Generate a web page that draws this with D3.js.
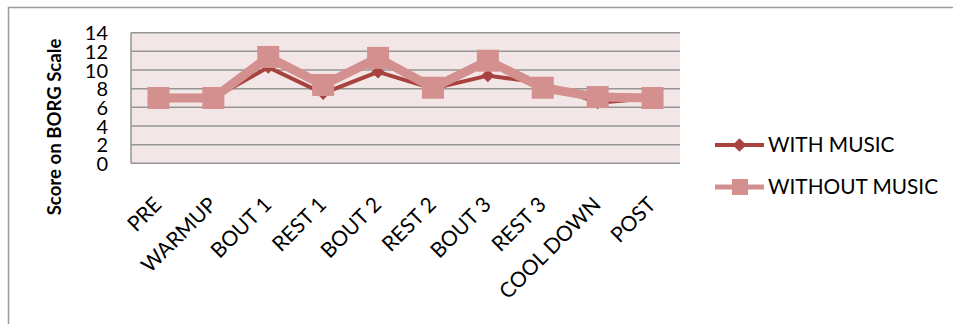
<!DOCTYPE html>
<html>
<head>
<meta charset="utf-8">
<script src="https://cdn.jsdelivr.net/npm/d3@7/dist/d3.min.js"></script>
<style>
  html, body { margin: 0; padding: 0; background: #fff; }
  svg { display: block; }
  text { font-family: Lato, "Open Sans", sans-serif; fill: #000; }
</style>
</head>
<body>
<svg id="chart" width="953" height="324"></svg>
<script>
// Perceived exertion (BORG scale) across session phases
const phases = ["PRE", "WARMUP", "BOUT 1", "REST 1", "BOUT 2", "REST 2", "BOUT 3", "REST 3", "COOL DOWN", "POST"];
const withMusic    = [7.0, 7.0, 10.3, 7.5, 9.8, 8.0, 9.4, 8.6, 6.5, 7.0];
const withoutMusic = [7.0, 7.0, 11.4, 8.4, 11.3, 8.1, 11.0, 8.1, 7.1, 7.0];
const yTicks = [0, 2, 4, 6, 8, 10, 12, 14];
const seriesNames = ["WITH MUSIC", "WITHOUT MUSIC"];

const darkRed = "#A8423F";
const pink = "#D4908E";

const svg = d3.select("#chart");

// outer chart frame (runs past the right and bottom edges)
svg.append("path")
  .attr("d", "M8.5,330 V7.5 H960")
  .attr("fill", "none")
  .attr("stroke", "#9a9a9a")
  .attr("stroke-width", 1.5);

const plot = { left: 131, right: 680, top: 32.7, bottom: 163.3 };

const x = d3.scalePoint().domain(phases).range([plot.left, plot.right]).padding(0.5);
const y = d3.scaleLinear().domain([0, 14]).range([plot.bottom, plot.top]);

// plot background
svg.append("rect")
  .attr("x", plot.left).attr("y", plot.top)
  .attr("width", plot.right - plot.left).attr("height", plot.bottom - plot.top)
  .attr("fill", "#F2E6E6");

// horizontal gridlines
svg.append("g")
  .selectAll("line")
  .data(yTicks)
  .join("line")
  .attr("x1", plot.left).attr("x2", plot.right)
  .attr("y1", d => y(d)).attr("y2", d => y(d))
  .attr("stroke", "#959595")
  .attr("stroke-width", 1.5);

// left axis line
svg.append("line")
  .attr("x1", plot.left).attr("x2", plot.left)
  .attr("y1", plot.top).attr("y2", plot.bottom)
  .attr("stroke", "#959595").attr("stroke-width", 1.5);

// y tick labels
const yAxis = d3.axisLeft(y).tickValues(yTicks).tickSize(0).tickPadding(0);
const yg = svg.append("g").attr("transform", "translate(108,0)").call(yAxis);
yg.select(".domain").remove();
yg.selectAll("text")
  .attr("font-size", 20)
  .attr("font-family", "Lato, sans-serif")
  .attr("fill", "#000")
  .attr("dy", "0.36em");

// y axis title
svg.append("text")
  .attr("transform", "translate(61,127) rotate(-90)")
  .attr("text-anchor", "middle")
  .attr("font-size", 18.6)
  .attr("font-weight", "bold")
  .text("Score on BORG Scale");

// x category labels, rotated 45 degrees and ending under each category
const xAxis = d3.axisBottom(x).tickSize(0).tickPadding(0);
const xg = svg.append("g").attr("transform", "translate(0,178)").call(xAxis);
xg.select(".domain").remove();
xg.selectAll("text")
  .attr("font-size", 21)
  .attr("font-family", "Lato, sans-serif")
  .attr("fill", "#000")
  .attr("text-anchor", "end")
  .attr("x", 0).attr("y", 0).attr("dy", 0)
  .attr("transform", "translate(4,28) rotate(-45)");

// series lines
const line = d3.line().x((d, i) => x(phases[i])).y(d => y(d));

svg.append("path")
  .datum(withMusic)
  .attr("d", line)
  .attr("fill", "none")
  .attr("stroke", darkRed)
  .attr("stroke-width", 4)
  .attr("stroke-linejoin", "round");

svg.append("g")
  .selectAll("path")
  .data(withMusic)
  .join("path")
  .attr("d", d3.symbol(d3.symbolDiamond2, 110))
  .attr("transform", (d, i) => `translate(${x(phases[i])},${y(d)})`)
  .attr("fill", darkRed);

svg.append("path")
  .datum(withoutMusic)
  .attr("d", line)
  .attr("fill", "none")
  .attr("stroke", pink)
  .attr("stroke-width", 9)
  .attr("stroke-linejoin", "round");

const sq = 22;
svg.append("g")
  .selectAll("rect")
  .data(withoutMusic)
  .join("rect")
  .attr("x", (d, i) => x(phases[i]) - sq / 2)
  .attr("y", d => y(d) - sq / 2)
  .attr("width", sq).attr("height", sq)
  .attr("fill", pink);

// legend
const legend = svg.append("g");
const legendRows = [
  { name: seriesNames[0], color: darkRed, w: 4, y: 145 },
  { name: seriesNames[1], color: pink, w: 5, y: 187 }
];
legendRows.forEach((r, i) => {
  legend.append("line")
    .attr("x1", 715).attr("x2", 764)
    .attr("y1", r.y).attr("y2", r.y)
    .attr("stroke", r.color).attr("stroke-width", r.w);
  if (i === 0) {
    legend.append("path")
      .attr("d", d3.symbol(d3.symbolDiamond2, 120))
      .attr("transform", `translate(739.5,${r.y})`)
      .attr("fill", r.color);
  } else {
    legend.append("rect")
      .attr("x", 732).attr("y", r.y - 8)
      .attr("width", 16).attr("height", 16)
      .attr("fill", r.color);
  }
  legend.append("text")
    .attr("x", 768).attr("y", r.y)
    .attr("dy", "0.36em")
    .attr("font-size", 20.8)
    .text(r.name);
});
</script>
</body>
</html>
